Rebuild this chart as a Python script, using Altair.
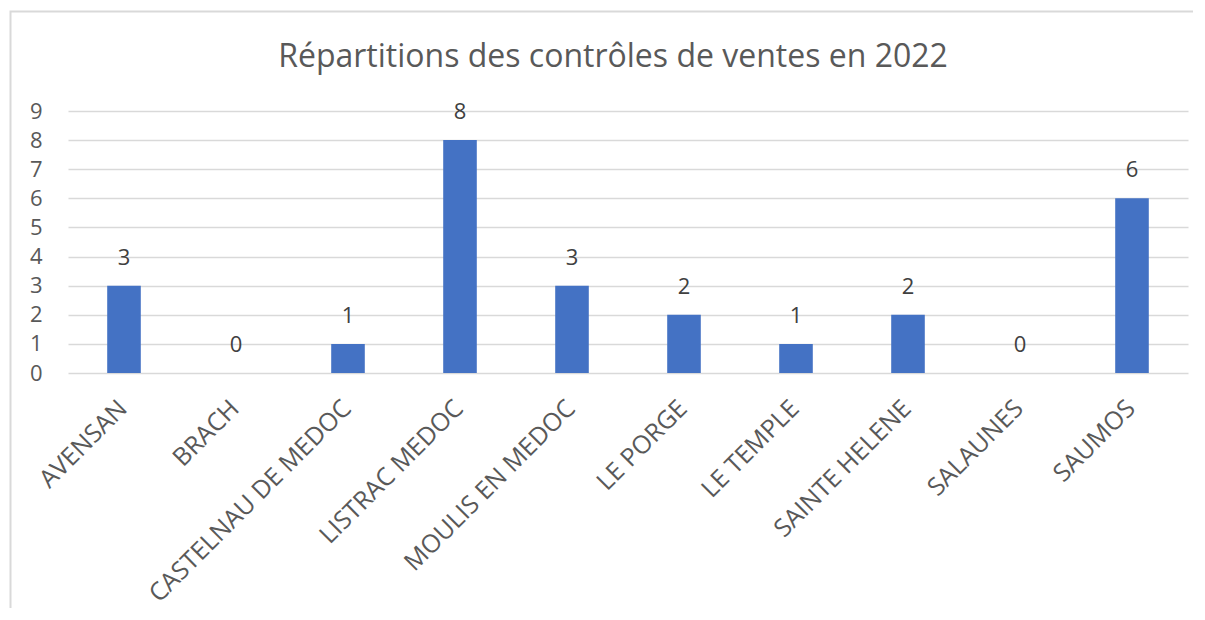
import altair as alt
import pandas as pd

communes = ["AVENSAN", "BRACH", "CASTELNAU DE MEDOC", "LISTRAC MEDOC", "MOULIS EN MEDOC",
            "LE PORGE", "LE TEMPLE", "SAINTE HELENE", "SALAUNES", "SAUMOS"]
controles = [3, 0, 1, 8, 3, 2, 1, 2, 0, 6]
y_ticks = [0, 1, 2, 3, 4, 5, 6, 7, 8, 9]
titre = "Répartitions des contrôles de ventes en 2022"

df = pd.DataFrame({"commune": communes, "n": controles})

FONT = "Open Sans"
GRID = "#d9d9d9"
TXT = "#595959"

x_enc = alt.X("commune:N", sort=communes, title=None,
              scale=alt.Scale(paddingInner=0.7, paddingOuter=0.35),
              axis=alt.Axis(labelAngle=-45, labelAlign="right", labelBaseline="middle",
                            labelFontSize=25, labelFont=FONT, labelColor=TXT,
                            labelPadding=31, labelOffset=-1, ticks=False, domain=False,
                            grid=False, labelOverlap=False, labelLimit=400))
y_enc = alt.Y("n:Q", title=None,
              scale=alt.Scale(domain=[0, 9], nice=False),
              axis=alt.Axis(values=y_ticks, tickCount=10, labelFontSize=22, labelFont=FONT,
                            labelColor=TXT, labelPadding=26, ticks=False, domain=False,
                            grid=True, gridColor=GRID, gridWidth=1.5))

base = alt.Chart(df)
bars = base.mark_bar(color="#4472C4").encode(x=x_enc, y=y_enc)
labels = base.mark_text(font=FONT, fontSize=22, color="#404040", baseline="alphabetic", dy=-21).encode(
    x=x_enc,
    y=y_enc,
    text=alt.Text("n:Q"),
)

title_df = pd.DataFrame({"t": [titre]})
title_mark = alt.Chart(title_df).mark_text(
    font=FONT, fontSize=32, color=TXT, baseline="alphabetic", align="center"
).encode(text="t:N", x=alt.value(545), y=alt.value(-44))

border = alt.Chart(pd.DataFrame({"a": [0]})).mark_rect(
    fill=None, fillOpacity=0, stroke=GRID, strokeWidth=2
).encode(x=alt.value(-57.5), x2=alt.value(1400), y=alt.value(-99.5), y2=alt.value(800))

chart = alt.layer(border, bars, labels, title_mark).properties(
    width=1120, height=262,
    autosize=alt.AutoSizeParams(type="none"),
    padding={"left": 60, "top": 103, "right": 5, "bottom": 235},
).configure_view(stroke=None)

chart.save("out.html", embed_options={"renderer": "svg", "actions": False})
